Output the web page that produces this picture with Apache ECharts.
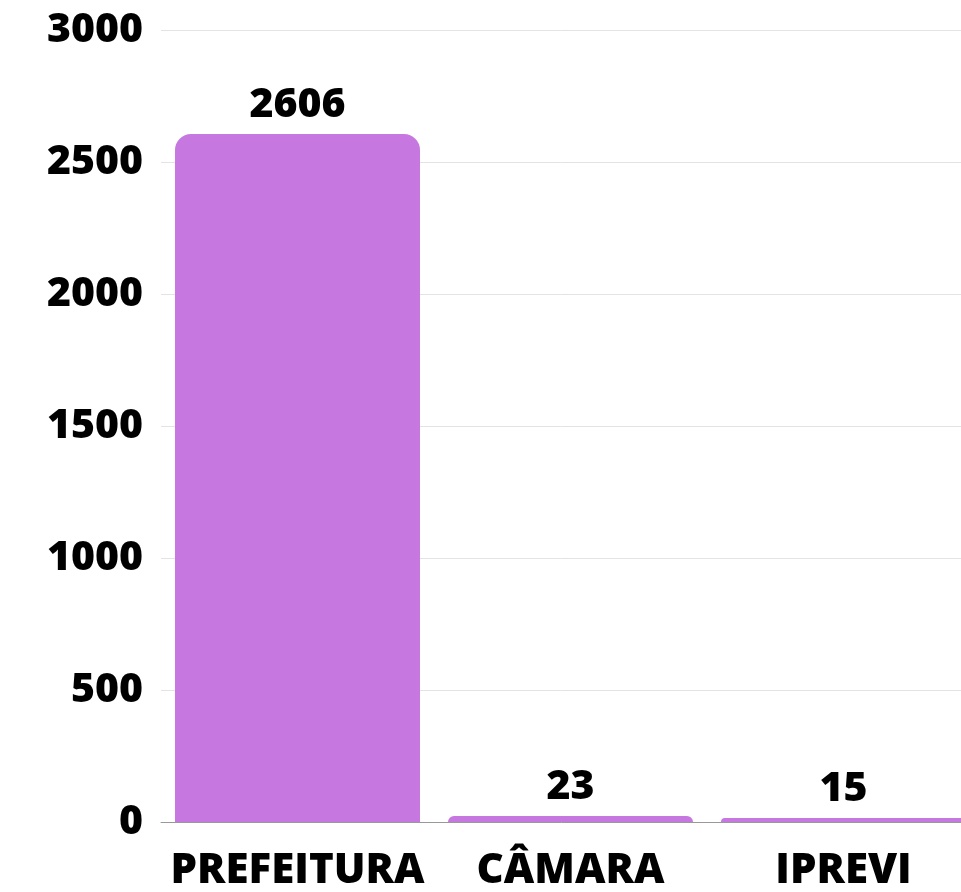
<!DOCTYPE html>
<html>
<head>
<meta charset="utf-8">
<script src="https://cdn.jsdelivr.net/npm/echarts@6/dist/echarts.min.js"></script>
<style>
  html, body { margin: 0; padding: 0; background: #fff; overflow: hidden; }
  #chart { width: 961px; height: 892px; }
</style>
</head>
<body>
<div id="chart"></div>
<script>
const categories = ["PREFEITURA", "CÂMARA", "IPREVI"];
const values = [2606, 23, 15];
const yTicks = { min: 0, max: 3000, interval: 500 };

const font = "'Open Sans', 'Noto Sans', sans-serif";
const myChart = echarts.init(document.getElementById("chart"));

const option = {
  animation: false,
  grid: {
    top: 30,
    left: 161,
    width: 819,
    bottom: 70,
    containLabel: false,
    outerBoundsMode: "none",
  },
  xAxis: {
    type: "category",
    data: categories,
    axisTick: { show: false },
    axisLine: { lineStyle: { color: "#999", width: 1 } },
    axisLabel: {
      interval: 0,
      color: "#000",
      fontFamily: font,
      fontWeight: 800,
      fontSize: 42,
      margin: 28,
    },
  },
  yAxis: {
    type: "value",
    min: yTicks.min,
    max: yTicks.max,
    interval: yTicks.interval,
    axisLine: { show: false },
    axisTick: { show: false },
    splitLine: { lineStyle: { color: "#e3e3e3", width: 1 } },
    axisLabel: {
      color: "#000",
      fontFamily: font,
      fontWeight: 800,
      fontSize: 41,
      margin: 18,
      formatter: (v) => String(v),
    },
  },
  series: [
    {
      type: "bar",
      data: values,
      barWidth: 245,
      itemStyle: {
        color: "#c677e0",
        borderRadius: [16, 16, 0, 0],
      },
      label: {
        show: true,
        position: "top",
        distance: 8,
        color: "#000",
        fontFamily: font,
        fontWeight: 800,
        fontSize: 41,
      },
    },
  ],
};

option && myChart.setOption(option);
</script>
</body>
</html>
